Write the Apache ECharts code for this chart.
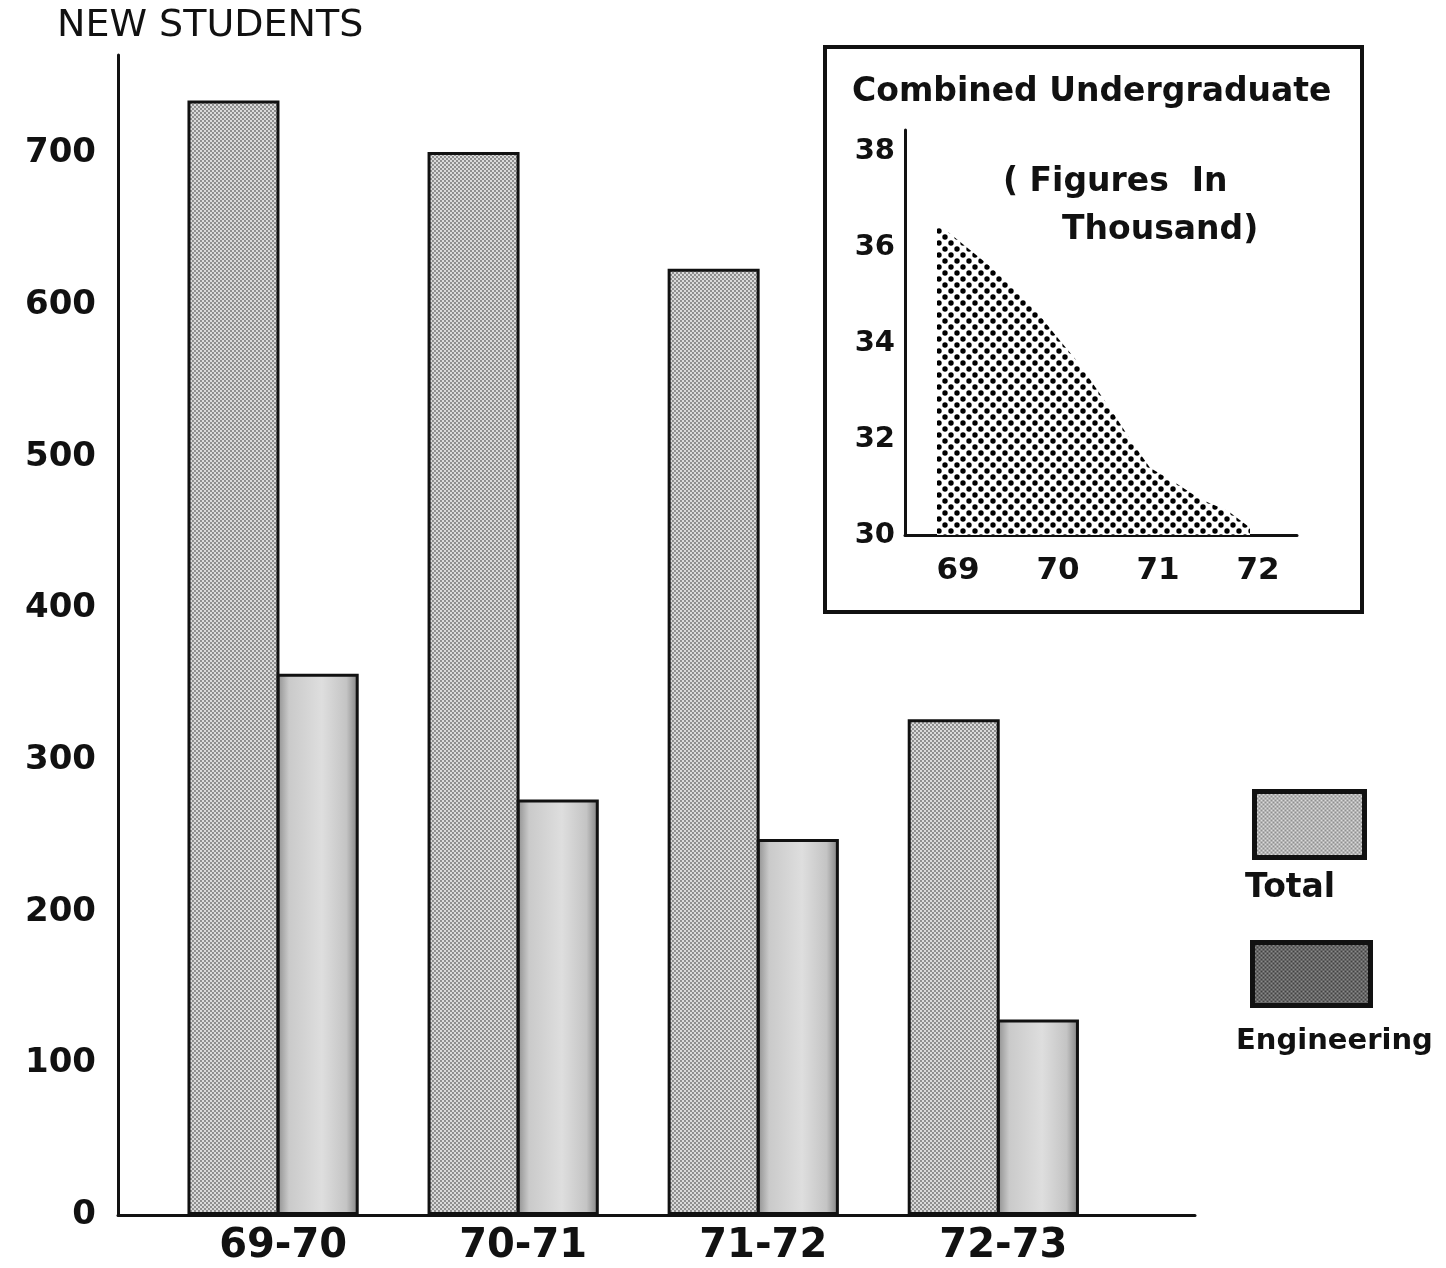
<!DOCTYPE html>
<html>
<head>
<meta charset="utf-8">
<script src="https://cdn.jsdelivr.net/npm/echarts@6/dist/echarts.min.js"></script>
<style>
html,body{margin:0;padding:0;background:#fff;}
#chart{width:1446px;height:1268px;}
</style>
</head>
<body>
<div id="chart"></div>
<script>
// ---- data ----
const categories = ['69-70', '70-71', '71-72', '72-73'];
const categoryPos = [0, 1, 2, 3];
const totalValues = [735, 701, 624, 327];
const engineeringValues = [357, 274, 248, 129];

// inset: Combined Undergraduate (figures in thousand)
const insetYears = [68.79, 69.32, 69.75, 70.0, 70.2, 70.4, 70.55, 70.75, 70.92, 71.2, 71.42, 71.7, 71.92];
const insetValues = [36.5, 35.6, 34.75, 34.1, 33.6, 33.0, 32.55, 31.9, 31.4, 31.05, 30.75, 30.5, 30.15];
const insetYearTicks = [69, 70, 71, 72];

// ---- texture helpers (style only) ----
function dotPattern(size, bg, fg, dots, r) {
  const c = document.createElement('canvas');
  c.width = size; c.height = size;
  const g = c.getContext('2d');
  g.fillStyle = bg; g.fillRect(0, 0, size, size);
  g.fillStyle = fg;
  dots.forEach(d => { g.beginPath(); g.arc(d[0], d[1], r, 0, Math.PI * 2); g.fill(); });
  return { image: c, repeat: 'repeat' };
}
const totalPattern = dotPattern(4, '#dadada', '#6a6a6a', [[1, 1], [3, 3]], 0.9);
const insetPattern = dotPattern(12, '#ffffff', '#000000', [[3, 3], [9, 9]], 2.7);
const engLegendPattern = dotPattern(4, '#8a8a8a', '#2a2a2a', [[1, 1], [3, 3]], 1.0);
const engGradient = {
  type: 'linear', x: 0, y: 0, x2: 1, y2: 0,
  colorStops: [
    { offset: 0, color: '#8c8c8c' },
    { offset: 0.15, color: '#cacaca' },
    { offset: 0.55, color: '#dedede' },
    { offset: 0.85, color: '#c4c4c4' },
    { offset: 1, color: '#7e7e7e' }
  ]
};

const FONT = 'DejaVu Sans';
const INK = '#111';

const chart = echarts.init(document.getElementById('chart'), null, { renderer: 'canvas' });

chart.setOption({
  backgroundColor: '#ffffff',
  animation: false,
  title: [
    { text: 'NEW STUDENTS', left: 57, top: 7, padding: 0,
      textStyle: { fontFamily: FONT, fontSize: 38, fontWeight: 'normal', color: INK } },
    { text: 'Combined Undergraduate', left: 852, top: 76, padding: 0,
      textStyle: { fontFamily: FONT, fontSize: 33, fontWeight: 'bold', color: INK } }
  ],
  legend: [
    { left: 1252, top: 789, itemWidth: 110, itemHeight: 66, padding: 0, icon: 'rect',
      formatter: () => '', selectedMode: false,
      data: [{ name: 'Total', itemStyle: { color: totalPattern, borderColor: INK, borderWidth: 5 } }] },
    { left: 1250, top: 940, itemWidth: 118, itemHeight: 63, padding: 0, icon: 'rect',
      formatter: () => '', selectedMode: false,
      data: [{ name: 'Engineering', itemStyle: { color: engLegendPattern, borderColor: INK, borderWidth: 5 } }] }
  ],
  graphic: [
    { type: 'rect', z: -10, shape: { x: 825, y: 47, width: 537, height: 565 },
      style: { fill: '#ffffff', stroke: INK, lineWidth: 4 } },
    { type: 'text', left: 1003, top: 166, z: 10,
      style: { text: '( Figures  In', font: 'bold 33px "DejaVu Sans"', fill: INK } },
    { type: 'text', left: 1062, top: 214, z: 10,
      style: { text: 'Thousand)', font: 'bold 33px "DejaVu Sans"', fill: INK } },
    { type: 'text', left: 1245, top: 872, z: 10,
      style: { text: 'Total', font: 'bold 33px "DejaVu Sans"', fill: INK } },
    { type: 'text', left: 1236, top: 1027, z: 10,
      style: { text: 'Engineering', font: 'bold 29px "DejaVu Sans"', fill: INK } }
  ],
  grid: [
    { left: 118, top: 55, width: 1077, height: 1160 },
    { left: 905, top: 130, width: 392, height: 405 }
  ],
  xAxis: [
    { gridIndex: 0, type: 'value', min: -0.646, max: 3.84,
      axisLine: { show: true, onZero: false, lineStyle: { color: INK, width: 3 } },
      axisTick: { show: false }, splitLine: { show: false },
      axisLabel: { customValues: categoryPos, formatter: v => categories[Math.round(v)],
        fontFamily: FONT, fontSize: 40, fontWeight: 'bold', color: INK, margin: 12,
        padding: [0, 0, 0, 20] } },
    { gridIndex: 1, type: 'value', min: 68.47, max: 72.39,
      axisLine: { show: true, onZero: false, lineStyle: { color: INK, width: 3 } },
      axisTick: { show: false }, splitLine: { show: false },
      axisLabel: { customValues: insetYearTicks, formatter: v => String(Math.round(v)),
        fontFamily: FONT, fontSize: 31, fontWeight: 'bold', color: INK, margin: 20 } }
  ],
  yAxis: [
    { gridIndex: 0, type: 'value', min: 0, max: 765, interval: 100,
      axisLine: { show: true, onZero: false, lineStyle: { color: INK, width: 3 } },
      axisTick: { show: false }, splitLine: { show: false },
      axisLabel: { showMaxLabel: false, fontFamily: FONT, fontSize: 34, fontWeight: 'bold',
        color: INK, margin: 22 } },
    { gridIndex: 1, type: 'value', min: 30, max: 38.44, interval: 2,
      axisLine: { show: true, onZero: false, lineStyle: { color: INK, width: 3 } },
      axisTick: { show: false }, splitLine: { show: false },
      axisLabel: { showMaxLabel: false, fontFamily: FONT, fontSize: 29, fontWeight: 'bold',
        color: INK, margin: 10 } }
  ],
  series: [
    { name: 'Total', type: 'bar', xAxisIndex: 0, yAxisIndex: 0,
      barWidth: 92, barGap: '-3%',
      itemStyle: { color: totalPattern, borderColor: INK, borderWidth: 3 },
      data: categoryPos.map((p, i) => [p, totalValues[i]]) },
    { name: 'Engineering', type: 'bar', xAxisIndex: 0, yAxisIndex: 0,
      barWidth: 82, barGap: '-3%',
      itemStyle: { color: engGradient, borderColor: INK, borderWidth: 3 },
      data: categoryPos.map((p, i) => [p, engineeringValues[i]]) },
    { name: 'Combined Undergraduate', type: 'line', xAxisIndex: 1, yAxisIndex: 1,
      showSymbol: false, symbol: 'none',
      lineStyle: { width: 0, opacity: 0 },
      areaStyle: { color: insetPattern, opacity: 1, origin: 'start' },
      data: insetYears.map((x, i) => [x, insetValues[i]]) }
  ]
});
</script>
</body>
</html>
